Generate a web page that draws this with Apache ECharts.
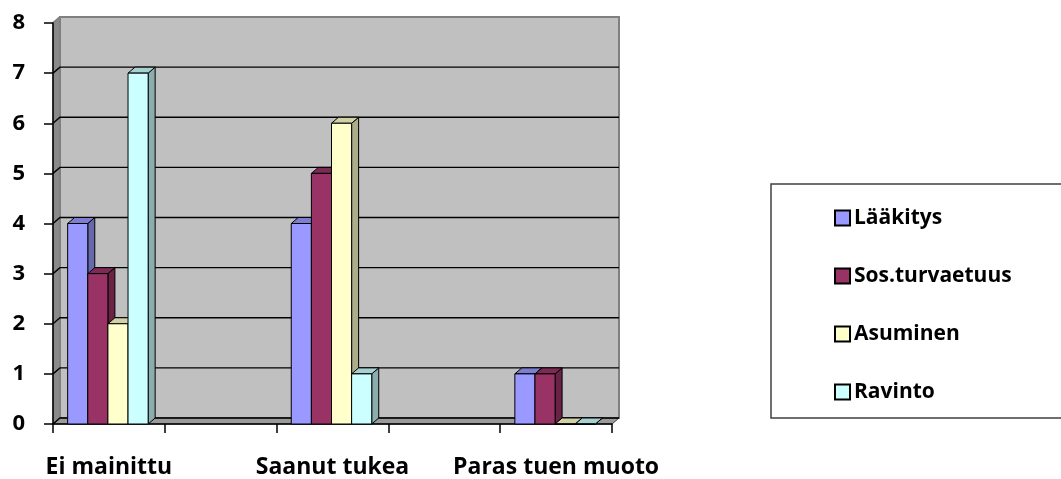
<!DOCTYPE html>
<html>
<head>
<meta charset="utf-8">
<style>
  html, body { margin: 0; padding: 0; background: #ffffff; }
  #chart { width: 1061px; height: 479px; }
</style>
<script src="https://cdn.jsdelivr.net/npm/echarts@6/dist/echarts.min.js"></script>
</head>
<body>
<div id="chart"></div>
<script>
// Categories (two unlabeled spacer categories sit between the named groups)
const categories = ['Ei mainittu', '', 'Saanut tukea', '', 'Paras tuen muoto'];
const seriesNames = ['Lääkitys', 'Sos.turvaetuus', 'Asuminen', 'Ravinto'];
const laakitys = [4, null, 4, null, 1];
const sosTurvaetuus = [3, null, 5, null, 1];
const asuminen = [2, null, 6, null, 0];
const ravinto = [7, null, 1, null, 0];
const yTicks = [0, 1, 2, 3, 4, 5, 6, 7, 8];

const seriesValues = [laakitys, sosTurvaetuus, asuminen, ravinto];
const seriesColors = ['#9999ff', '#993366', '#ffffcc', '#ccffff'];

// depth of the pseudo-3D extrusion (px)
const DX = 7, DY = -6;
const FONT = 'Open Sans';

function shade(hex, k) {
  const n = parseInt(hex.slice(1), 16);
  const r = Math.round(((n >> 16) & 255) * k);
  const g = Math.round(((n >> 8) & 255) * k);
  const b = Math.round((n & 255) * k);
  return 'rgb(' + r + ',' + g + ',' + b + ')';
}

// back wall, side wall, floor and gridlines
function renderWalls(params, api) {
  const cs = params.coordSys;
  const x = cs.x, y = cs.y, w = cs.width, h = cs.height;
  const children = [];
  children.push({
    type: 'polygon',
    shape: { points: [[x, y + h], [x, y], [x + DX, y + DY], [x + DX, y + h + DY]] },
    style: { fill: '#8a8a8a', stroke: '#606060', lineWidth: 1 }
  });
  children.push({
    type: 'rect',
    shape: { x: x + DX, y: y + DY, width: w, height: h },
    style: { fill: '#c0c0c0', stroke: '#808080', lineWidth: 2 }
  });
  children.push({
    type: 'polygon',
    shape: { points: [[x, y + h], [x + DX, y + h + DY], [x + w + DX, y + h + DY], [x + w, y + h]] },
    style: { fill: '#9a9a9a', stroke: '#404040', lineWidth: 1 }
  });
  const top = yTicks[yTicks.length - 1];
  yTicks.forEach(function (v) {
    const yy = api.coord([0, v])[1];
    const isTop = v === top;
    children.push({
      type: 'polyline',
      shape: { points: [[x, yy], [x + DX, yy + DY], [x + w + DX, yy + DY]] },
      style: { stroke: isTop ? '#808080' : '#000000', lineWidth: isTop ? 2 : 1.4, fill: null }
    });
  });
  return { type: 'group', children: children };
}

function makeBarRenderer(i) {
  const base = seriesColors[i];
  const side = shade(base, 0.68);
  const topC = shade(base, 0.82);
  return function (params, api) {
    const v = api.value(1);
    if (v === null || v === undefined || isNaN(v)) return;
    const c = api.value(0);
    const p = api.coord([c, v]);
    const p0 = api.coord([c, 0]);
    const band = api.size([1, 0])[0];
    const bw = band * 0.18;
    const x0 = p[0] - 2 * bw + i * bw - 1;
    const yt = p[1], yb = p0[1];
    const stroke = { stroke: '#000000', lineWidth: 1 };
    return {
      type: 'group',
      children: [
        {
          type: 'polygon',
          shape: { points: [[x0 + bw, yt], [x0 + bw + DX, yt + DY], [x0 + bw + DX, yb + DY], [x0 + bw, yb]] },
          style: Object.assign({ fill: side }, stroke)
        },
        {
          type: 'polygon',
          shape: { points: [[x0, yt], [x0 + DX, yt + DY], [x0 + bw + DX, yt + DY], [x0 + bw, yt]] },
          style: Object.assign({ fill: topC }, stroke)
        },
        {
          type: 'rect',
          shape: { x: x0, y: yt, width: bw, height: yb - yt },
          style: Object.assign({ fill: base }, stroke)
        }
      ]
    };
  };
}

const chart = echarts.init(document.getElementById('chart'), null, { renderer: 'canvas' });

const series = [{
  name: '__walls',
  type: 'custom',
  z: -1,
  silent: true,
  data: [[0, 0]],
  renderItem: renderWalls
}];
seriesNames.forEach(function (name, i) {
  series.push({
    name: name,
    type: 'custom',
    z: 2 + i,
    itemStyle: { color: seriesColors[i] },
    data: seriesValues[i].map(function (v, k) { return [k, v]; }),
    renderItem: makeBarRenderer(i)
  });
});

chart.setOption({
  animation: false,
  backgroundColor: '#ffffff',
  textStyle: { fontFamily: FONT },
  grid: { left: 53, top: 23, width: 559, height: 403 },
  graphic: [{
    type: 'rect',
    z: 0,
    shape: { x: 771, y: 184, width: 300, height: 234 },
    style: { fill: '#ffffff', stroke: '#404040', lineWidth: 1.5 }
  }],
  legend: {
    data: seriesNames,
    orient: 'vertical',
    left: 829,
    top: 202,
    z: 10,
    icon: 'rect',
    itemWidth: 15,
    itemHeight: 15,
    itemGap: 36,
    itemStyle: { borderColor: '#000000', borderWidth: 2 },
    selectedMode: false,
    textStyle: { fontFamily: FONT, fontWeight: 'bold', fontSize: 21, lineHeight: 22, color: '#000000', padding: [0, 0, 0, -1] }
  },
  xAxis: {
    type: 'category',
    data: categories,
    boundaryGap: true,
    axisLine: { show: true, lineStyle: { color: '#000000', width: 1.5 } },
    axisTick: { show: true, interval: 0, length: 9, lineStyle: { color: '#000000', width: 1.5 } },
    axisLabel: { interval: 0, margin: 32, fontFamily: FONT, fontWeight: 'bold', fontSize: 23, color: '#000000' },
    splitLine: { show: false }
  },
  yAxis: {
    type: 'value',
    min: 0,
    max: 8,
    interval: 1,
    axisLine: { show: true, lineStyle: { color: '#000000', width: 1.5 } },
    axisTick: { show: true, length: 9, lineStyle: { color: '#000000', width: 1.5 } },
    axisLabel: { margin: 28, fontFamily: FONT, fontWeight: 'bold', fontSize: 22, color: '#000000' },
    splitLine: { show: false }
  },
  series: series
});
</script>
</body>
</html>
